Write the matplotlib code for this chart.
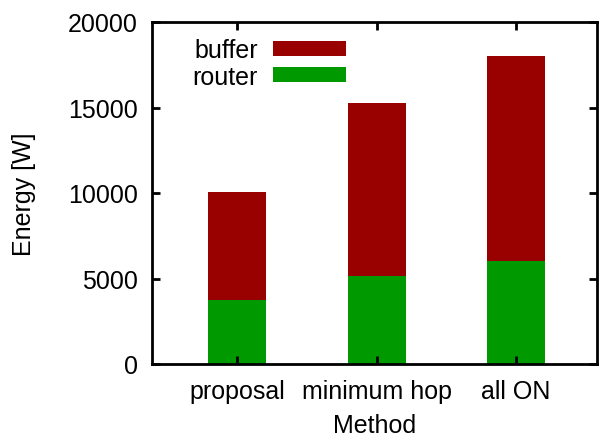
import matplotlib
matplotlib.use("Agg")
import matplotlib.pyplot as plt
import numpy as np

plt.rcParams['font.family'] = ['Liberation Sans', 'DejaVu Sans']

methods = ["proposal", "minimum hop", "all ON"]
router = [3750, 5150, 6050]
buffer = [6300, 10100, 11950]

fig = plt.figure(figsize=(6.01, 4.39), dpi=100)
ax = fig.add_axes([152 / 601, 1 - 365 / 439, 445 / 601, 342 / 439])

x = np.arange(len(methods))
ax.bar(x, router, width=0.415, color="#009900", label="router")
ax.bar(x, buffer, width=0.415, bottom=router, color="#990000", label="buffer")

ax.set_xlim(-0.61, 2.58)
ax.set_ylim(0, 20000)
ax.set_yticks([0, 5000, 10000, 15000, 20000])
ax.set_xticks(x)
ax.set_xticklabels(methods)
ax.tick_params(direction="in", length=6, width=2, labelsize=18,
               top=True, right=True)
ax.tick_params(axis="y", pad=10)
ax.tick_params(axis="x", pad=11)
for s in ax.spines.values():
    s.set_linewidth(2)

ax.set_xlabel("Method", fontsize=18, labelpad=7)
ax.set_ylabel("Energy [W]", fontsize=18, labelpad=23)

h, l = ax.get_legend_handles_labels()
leg = ax.legend(h[::-1], l[::-1], loc="upper right", bbox_to_anchor=(0.436, 0.953),
                frameon=False, fontsize=18, markerfirst=False,
                borderpad=0, borderaxespad=0,
                handlelength=2.92, handleheight=0.56, labelspacing=0.1,
                handletextpad=0.6)

fig.savefig("out.png", dpi=100)
